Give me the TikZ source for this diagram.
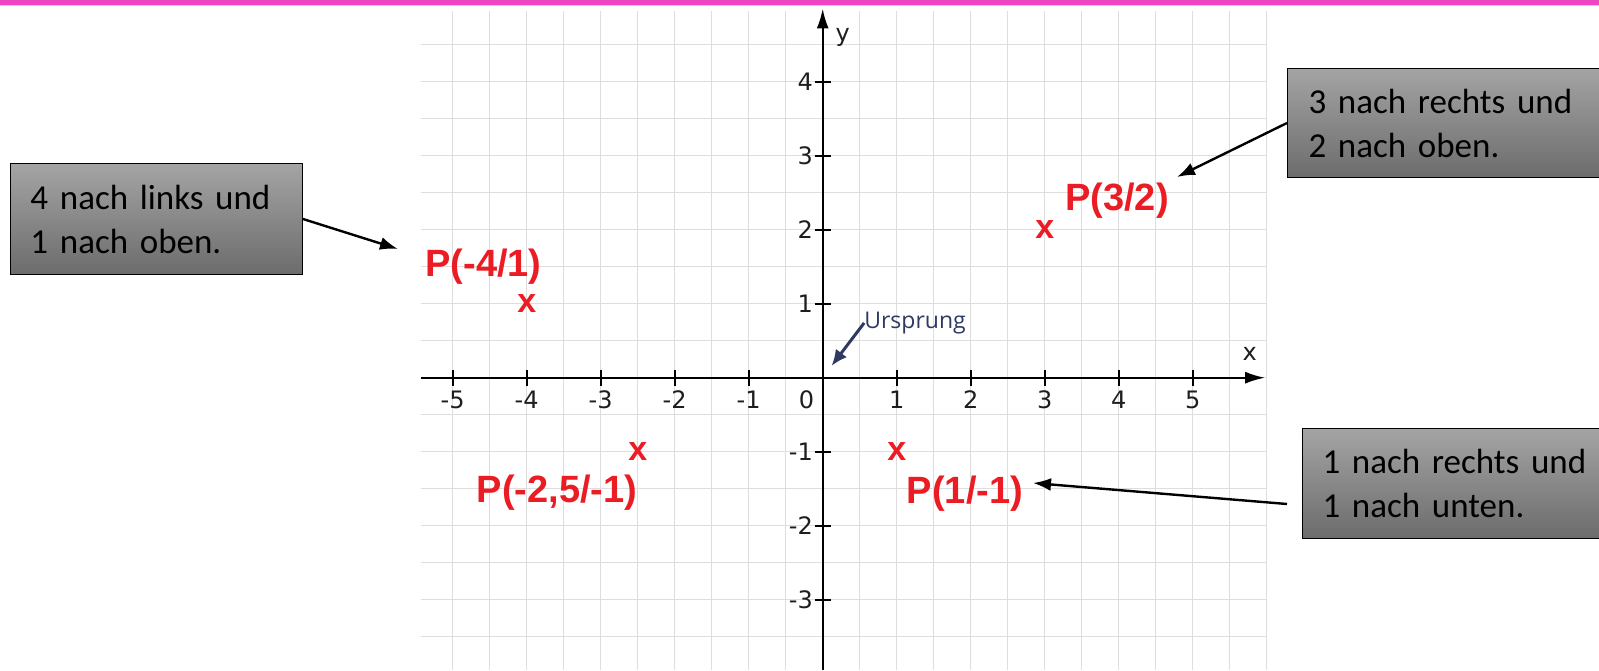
\documentclass[tikz,border=0pt]{standalone}
\usepackage{fontspec}
\setmainfont{Carlito}
\newfontfamily\ptfont{Liberation Sans}
\newfontfamily\tickfont{DejaVu Sans}
\newfontfamily\notefont{Open Sans}
\usetikzlibrary{arrows.meta}
\definecolor{topbar}{HTML}{EE44C2}
\definecolor{gridgray}{HTML}{DEDEDE}
\definecolor{ptred}{HTML}{EC1C24}
\definecolor{navy}{HTML}{2E3A63}
\definecolor{boxtop}{HTML}{A4A4A4}
\definecolor{boxbot}{HTML}{6C6C6C}
\definecolor{ticktext}{HTML}{1E1E1E}
\tikzset{
  gridline/.style={gridgray, line width=1.4pt},
  axisline/.style={black, line width=2.4pt, -{Latex[length=20pt, width=12pt]}},
  tickline/.style={black, line width=2.2pt},
  ticklabel/.style={text=ticktext, font=\tickfont\fontsize{24}{24}\selectfont},
  ptmark/.style={text=ptred, font=\ptfont\bfseries\fontsize{34}{34}\selectfont},
  ptlabel/.style={text=ptred, font=\ptfont\bfseries\fontsize{38}{38}\selectfont},
  notebox/.style={draw=black, line width=1pt, top color=boxtop, bottom color=boxbot,
    anchor=north west, inner xsep=20pt, inner ysep=0pt, align=left,
    font=\fontsize{35}{44}\selectfont},
  notearrow/.style={black, line width=2.4pt, -{Latex[length=18pt, width=13pt]}},
}

\begin{document}
\begin{tikzpicture}[x=1pt, y=-1pt, every node/.style={inner sep=0pt}]

\useasboundingbox (0,0) rectangle (1599,670);
\fill[white] (0,0) rectangle (1599,670);

\begin{scope}
  \clip (0,0) rectangle (1599,670);

% coordinate plane, origin at the axis crossing, 74pt per unit
\begin{scope}[shift={(822.7,377.7)}, x=74pt, y=74pt]
  \draw[gridline] (-5.43,-3.95) grid[step=0.5] (6,4.95);
  \draw[axisline] (-5.43,0) -- (5.98,0);
  \draw[axisline] (0,-3.95) -- (0,4.99);
  \foreach \i in {-5,...,-1,1,2,...,5} {
    \draw[tickline] (\i,-0.11) -- (\i,0.11);
    \node[ticklabel] (xt\i) at (\i,-0.3) {\i};
  }
  \foreach \j in {-3,...,-1,1,2,...,4} {
    \draw[tickline] (-0.11,\j) -- (0.11,\j);
    \node[ticklabel, anchor=east] (yt\j) at (-0.13,\j) {\j};
  }
  \node[ticklabel] (zero) at (-0.22,-0.3) {0};
  \node[ticklabel] (xname) at (5.77,0.32) {x};
  \node[ticklabel] (yname) at (0.27,4.6) {y};

  % origin note
  \node[anchor=west, text=navy, font=\notefont\fontsize{23}{23}\selectfont]
    (urs) at (0.56,0.74) {Ursprung};
  \coordinate (urstip) at (0.12,0.16);
  \draw[navy, line width=3pt, -{Latex[length=16pt, width=14pt]}] (urs.west) -- (urstip);

  % the four points
  \node[ptmark] (mA) at (-4,1) {x};
  \node[ptmark] (mB) at (3,2) {x};
  \node[ptmark] (mC) at (-2.5,-1) {x};
  \node[ptmark] (mD) at (1,-1) {x};
\end{scope}

% point names
\node[ptlabel] (lA) at (483.5,267) {P(-4/1)};
\node[ptlabel] (lB) at (1117,201) {P(3/2)};
\node[ptlabel] (lC) at (557,493) {P(-2,5/-1)};
\node[ptlabel] (lD) at (965,494) {P(1/-1)};

% explanation boxes
\node[notebox, minimum width=292pt, minimum height=111pt, text width=252pt]
  (lbox) at (10,163) {4 nach links und\\1 nach oben.};
\node[notebox, minimum width=330pt, minimum height=109pt, text width=290pt, inner xsep=21pt]
  (trbox) at (1287,68) {3 nach rechts und\\2 nach oben.};
\node[notebox, minimum width=330pt, minimum height=110pt, text width=290pt, inner xsep=20pt]
  (brbox) at (1302,428) {1 nach rechts und\\1 nach unten.};

% pointers from the boxes
\coordinate (tipA) at (398,249);
\coordinate (tipB) at (1177,177);
\coordinate (tipD) at (1033,483);
\coordinate (tailD) at (1287,504);
\draw[notearrow] (lbox.east) -- (tipA);
\draw[notearrow] (trbox.west) -- (tipB);
\draw[notearrow] (tailD) -- (tipD);

% pink rule along the top
\fill[topbar] (0,0) rectangle (1599,4.5);
\fill[topbar!35] (0,4.5) rectangle (1599,5.5);
\end{scope}

\end{tikzpicture}
\end{document}
